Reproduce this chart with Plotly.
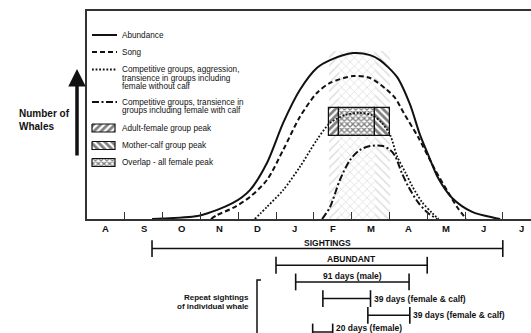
import plotly.graph_objects as go

# ---------------- data ----------------
months = ["A", "S", "O", "N", "D", "J", "F", "M", "A", "M", "J", "J"]

# x = months since 1 August, y = relative number of whales (0-100)
abund_x = [1.72, 2.01, 2.99, 3.86, 4.31, 4.76, 5.19, 5.63, 6.08, 6.43, 7.04, 7.49, 7.75, 8.20, 8.54, 8.81, 9.05, 9.29, 9.66, 10.19, 10.79, 10.93]
abund_y = [0, 0.24, 1.7, 7.7, 13.9, 26.9, 46.2, 62.0, 72.6, 76.4, 79.8, 78.8, 76.4, 68.3, 55.3, 40.4, 29.8, 19.7, 10.1, 3.4, 0.5, 0]

song_x = [3.28, 3.44, 3.86, 4.31, 4.76, 5.19, 5.63, 6.08, 6.43, 7.04, 7.49, 7.94, 8.15, 8.41, 8.76, 9.21, 9.55, 9.79, 10.03]
song_y = [0, 1.9, 5.3, 10.6, 18.75, 33.2, 49.0, 60.6, 65.4, 68.75, 67.8, 62.0, 58.2, 50.0, 39.4, 23.6, 13.0, 5.8, 0]

compet_x = [4.44, 4.76, 5.19, 5.63, 6.08, 6.43, 6.83, 7.17, 7.54, 7.80, 8.02, 8.20, 8.43, 8.60, 8.86, 9.13, 9.30]
compet_y = [0, 5.8, 13.9, 25.0, 38.0, 46.2, 50.0, 51.0, 50.0, 46.2, 40.4, 30.3, 22.1, 15.9, 8.2, 2.9, 0]

calf_x = [6.22, 6.43, 6.69, 6.96, 7.22, 7.49, 7.83, 8.02, 8.15, 8.33, 8.49, 8.75, 9.02, 9.26]
calf_y = [0, 5.8, 18.75, 28.4, 33.2, 35.1, 35.1, 33.2, 30.3, 22.1, 16.0, 8.2, 2.9, 0]

adult_female_peak = [6.40, 7.62]
mother_calf_peak = [6.67, 8.02]

row_labels = ["SIGHTINGS", "ABUNDANT", "91 days (male)", "39 days (female & calf)",
              "39 days (female & calf)", "20 days (female)"]
row_start = [1.72, 5.00, 5.52, 6.24, 7.43, 5.97]
row_end = [11.00, 9.00, 8.52, 7.50, 8.54, 6.50]
row_label_side = ["above", "above", "above", "right", "right", "right"]

legend_lines = ["Abundance", "Song",
                ["Competitive groups, aggression,", "transience in groups including", "female without calf"],
                ["Competitive groups, transience in", "groups including female with calf"]]
legend_patterns = ["Adult-female group peak", "Mother-calf group peak", "Overlap - all female peak"]

# ---------------- figure ----------------
FONT = "Liberation Sans, Arial, sans-serif"
INK = "#111111"
W, H = 531, 333
L, T = 87, 11


def px_x(px):
    return (px - L) / (W - L)


def px_y(py):
    return (H - py) / (H - T)


fig = go.Figure()

ov0 = max(adult_female_peak[0], mother_calf_peak[0])
ov1 = min(adult_female_peak[1], mother_calf_peak[1])
segments = [(adult_female_peak[0], ov0, "/"), (ov0, ov1, "x"), (ov1, mother_calf_peak[1], "\\")]

# light band behind curves
for x0, x1, sh in segments:
    fig.add_trace(go.Bar(x=[(x0 + x1) / 2], y=[81], base=[0], width=[x1 - x0],
                         marker=dict(color="white", line=dict(width=0),
                                     pattern=dict(shape=sh, fgcolor="#bdbdbd", bgcolor="white",
                                                  size=6, solidity=0.25)),
                         hoverinfo="skip", showlegend=False))
# dark peak box
for x0, x1, sh in segments:
    fig.add_trace(go.Bar(x=[(x0 + x1) / 2], y=[13.5], base=[39.9], width=[x1 - x0],
                         marker=dict(color="white", line=dict(width=1.2, color=INK),
                                     pattern=dict(shape=sh, fgcolor="black", bgcolor="white",
                                                  size=4 if sh == "x" else 5, solidity=0.55)),
                         hoverinfo="skip", showlegend=False))

curve_styles = [
    (abund_x, abund_y, "solid", 2),
    (song_x, song_y, "5px,3px", 2),
    (compet_x, compet_y, "1.8px,1.8px", 1.8),
    (calf_x, calf_y, "7px,2.5px,2px,2.5px", 2),
]
for xs, ys, dash, w in curve_styles:
    fig.add_trace(go.Scatter(x=xs, y=ys, mode="lines",
                             line=dict(color=INK, width=w, dash=dash, shape="spline", smoothing=0.8),
                             hoverinfo="skip", showlegend=False))

# range rows below the axis
for i, (lab, s, e, side) in enumerate(zip(row_labels, row_start, row_end, row_label_side)):
    fig.add_trace(go.Scatter(x=[s, e], y=[i, i], xaxis="x", yaxis="y2", mode="lines+markers",
                             line=dict(color=INK, width=1.5),
                             marker=dict(symbol="line-ns", size=12, line=dict(width=1.6, color=INK)),
                             hoverinfo="skip", showlegend=False))
    if side == "above":
        fig.add_annotation(x=(s + e) / 2, y=i, xref="x", yref="y2", text="<b>%s</b>" % lab,
                           showarrow=False, yanchor="middle", yshift=6,
                           font=dict(family=FONT, size=8.5, color=INK))
    else:
        fig.add_annotation(x=e, y=i, xref="x", yref="y2", text="<b>%s</b>" % lab,
                           showarrow=False, xanchor="left", yanchor="middle", xshift=1,
                           yshift=4 if i == 5 else 0,
                           font=dict(family=FONT, size=8.5, color=INK))

# month letters centred in each month
for i, m in enumerate(months):
    fig.add_annotation(x=i + 0.5, y=px_y(228), xref="x", yref="paper", text="<b>%s</b>" % m,
                       showarrow=False, yanchor="middle",
                       font=dict(family=FONT, size=9.5, color=INK))

# legend (overlay axes in pixel units)
leg_line_rows = [35, 52, 69.5, 102]
leg_text_rows = [[35], [52], [69.5, 78, 86], [102, 110]]
for (xs, ys, dash, w), py in zip(curve_styles, leg_line_rows):
    fig.add_trace(go.Scatter(x=[92, 117], y=[py, py], xaxis="x3", yaxis="y3", mode="lines",
                             line=dict(color=INK, width=w, dash=dash),
                             hoverinfo="skip", showlegend=False))
for texts, rows in zip(legend_lines, leg_text_rows):
    if isinstance(texts, str):
        texts = [texts]
    for t, py in zip(texts, rows):
        fig.add_annotation(x=120, y=py, xref="x3", yref="y3", text=t, showarrow=False,
                           xanchor="left", yanchor="middle",
                           font=dict(family=FONT, size=8.2, color=INK))
for (x0, x1, sh), lab, py in zip([segments[0], segments[2], segments[1]], legend_patterns, [128, 145.5, 162.5]):
    fig.add_trace(go.Scatter(x=[92, 115, 115, 92, 92], y=[py - 4, py - 4, py + 4, py + 4, py - 4],
                             xaxis="x3", yaxis="y3", mode="lines", fill="toself",
                             fillcolor="white", line=dict(color=INK, width=1.2),
                             fillpattern=dict(shape=sh, fgcolor="black", bgcolor="white",
                                              size=4 if sh == "x" else 5, solidity=0.55),
                             hoverinfo="skip", showlegend=False))
    fig.add_annotation(x=120, y=py, xref="x3", yref="y3", text=lab, showarrow=False,
                       xanchor="left", yanchor="middle",
                       font=dict(family=FONT, size=8.2, color=INK))

# y-axis arrow and title
fig.add_annotation(x=px_x(77), y=px_y(69), xref="paper", yref="paper", ax=0, ay=88,
                   text="", showarrow=True, arrowhead=2, arrowsize=1, arrowwidth=3.5, arrowcolor=INK)
fig.add_annotation(x=px_x(17), y=px_y(120), xref="paper", yref="paper",
                   text="<b>Number of<br>Whales</b>", showarrow=False, xanchor="left", yanchor="middle",
                   align="left", font=dict(family=FONT, size=10, color=INK))

# repeat sightings bracket
fig.add_shape(type="path", xref="paper", yref="paper",
              path="M %f %f L %f %f L %f %f" % (px_x(261), px_y(280), px_x(257), px_y(280), px_x(257), px_y(335)),
              line=dict(color=INK, width=1.5))
fig.add_annotation(x=px_x(251), y=px_y(297), xref="paper", yref="paper",
                   text="<b>Repeat sightings</b>", showarrow=False, xanchor="right", yanchor="middle",
                   font=dict(family=FONT, size=8, color=INK))
fig.add_annotation(x=px_x(251), y=px_y(306), xref="paper", yref="paper",
                   text="<b>of individual whale</b>", showarrow=False, xanchor="right", yanchor="middle",
                   font=dict(family=FONT, size=8, color=INK))

ydom = (H - 219) / (H - T)
fig.update_layout(
    width=W, height=H, margin=dict(l=L, r=0, t=T, b=0, pad=0),
    paper_bgcolor="white", plot_bgcolor="rgba(0,0,0,0)", barmode="overlay", bargap=0,
    showlegend=False,
    xaxis=dict(range=[0, (W - L) / 37.8], tickmode="array",
               tickvals=list(range(1, 12)), showticklabels=False,
               ticks="inside", ticklen=7, tickwidth=1, tickcolor="#333333",
               showgrid=False, zeroline=False, showline=True, linecolor="#333333",
               linewidth=1.5, mirror=True, anchor="y"),
    yaxis=dict(domain=[ydom, 1], range=[0, 100], showticklabels=False, ticks="", showgrid=False,
               zeroline=False, showline=True, linecolor="#333333", linewidth=1.5, mirror=False,
               anchor="x"),
    yaxis2=dict(domain=[0, ydom], range=[5.06, -1.77], visible=False, anchor="x"),
    xaxis3=dict(domain=[0, 1], range=[L, W], visible=False, anchor="y3"),
    yaxis3=dict(domain=[0, 1], range=[H, T], visible=False, anchor="x3"),
)

fig.write_html("out.html", config={"displayModeBar": False})

# remove the browser's default page margin so the figure sits at the window origin
with open("out.html", encoding="utf-8") as f:
    html = f.read()
html = html.replace("<head>", "<head><style>html,body{margin:0;padding:0;overflow:hidden}</style>", 1)
with open("out.html", "w", encoding="utf-8") as f:
    f.write(html)
